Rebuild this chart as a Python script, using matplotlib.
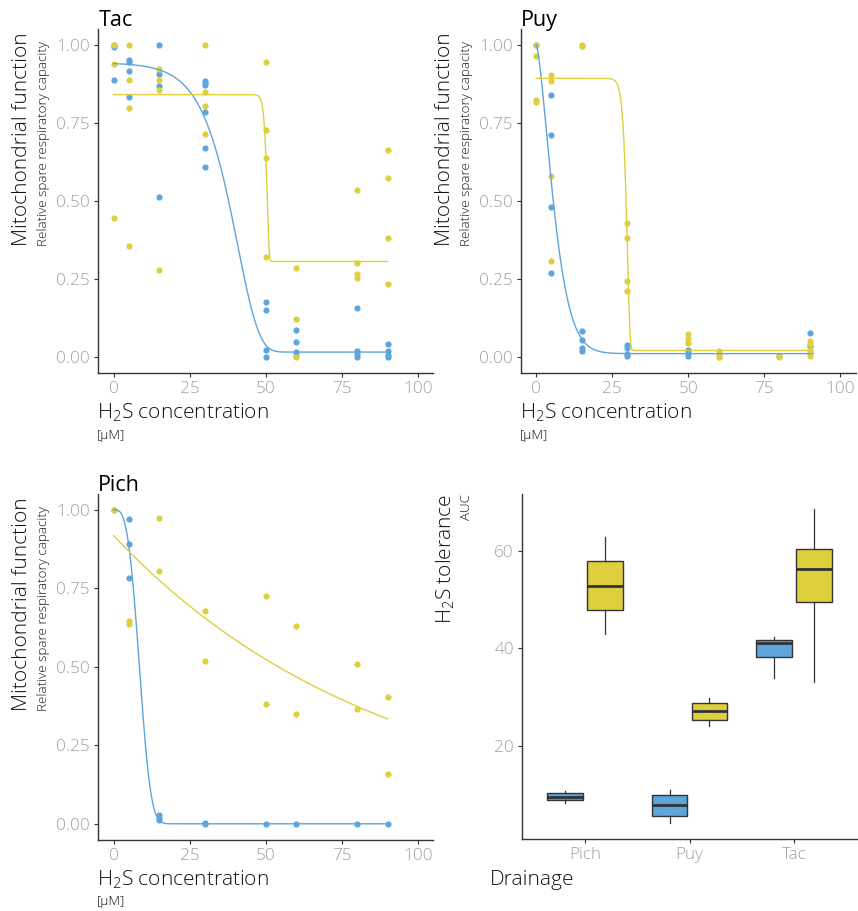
import numpy as np
import matplotlib
matplotlib.use('Agg')
import matplotlib.pyplot as plt

plt.rcParams['font.family'] = ['Open Sans', 'DejaVu Sans']
plt.rcParams['mathtext.default'] = 'regular'

# ---------------- data ----------------
# Tac
tac_blue_x = [0, 0, 0, 5, 5, 5, 5, 15, 15, 15, 15, 30, 30, 30, 30, 30, 30,
              50, 50, 50, 50, 60, 60, 60, 60, 80, 80, 80, 80, 90, 90, 90, 90]
tac_blue_y = [1.0, 0.993, 0.887, 0.952, 0.945, 0.917, 0.832, 1.0, 0.907, 0.870, 0.514,
              0.886, 0.879, 0.873, 0.786, 0.670, 0.610,
              0.177, 0.153, 0.023, 0.0, 0.088, 0.048, 0.016, 0.005,
              0.159, 0.019, 0.011, 0.0, 0.044, 0.021, 0.008, 0.0]
tac_yellow_x = [0, 0, 0, 5, 5, 5, 5, 15, 15, 15, 15, 30, 30, 30, 30,
                50, 50, 50, 50, 60, 60, 60, 80, 80, 80, 80, 90, 90, 90, 90]
tac_yellow_y = [1.0, 0.94, 0.447, 1.0, 0.889, 0.798, 0.358, 0.922, 0.887, 0.855, 0.280,
                0.999, 0.849, 0.804, 0.715, 0.944, 0.728, 0.639, 0.322,
                0.286, 0.124, 0.0, 0.536, 0.303, 0.268, 0.255, 0.665, 0.575, 0.382, 0.236]
# Puy
puy_blue_x = [0, 5, 5, 5, 5, 15, 15, 15, 15, 30, 30, 30, 30, 50, 50, 50, 80, 90, 90, 90]
puy_blue_y = [1.0, 0.839, 0.713, 0.480, 0.270, 0.083, 0.056, 0.030, 0.022,
              0.041, 0.031, 0.010, 0.005, 0.024, 0.014, 0.005, 0.004, 0.077, 0.035, 0.014]
puy_yellow_x = [0, 0, 0, 0, 5, 5, 5, 5, 15, 15, 15, 30, 30, 30, 30, 50, 50, 50,
                60, 60, 60, 60, 80, 80, 90, 90, 90, 90]
puy_yellow_y = [1.0, 0.963, 0.823, 0.818, 0.903, 0.883, 0.580, 0.307, 1.0, 0.996, 0.998,
                0.430, 0.383, 0.244, 0.211, 0.076, 0.059, 0.045,
                0.019, 0.008, 0.002, 0.0, 0.003, 0.0, 0.051, 0.042, 0.024, 0.005]
# Pich
pich_blue_x = [0, 5, 5, 5, 15, 15, 15, 30, 30, 50, 60, 80, 90]
pich_blue_y = [1.0, 0.971, 0.892, 0.783, 0.027, 0.019, 0.013, 0.003, 0.0, 0.0, 0.0, 0.0, 0.0]
pich_yellow_x = [0, 5, 5, 15, 15, 30, 30, 50, 50, 60, 60, 80, 80, 90, 90]
pich_yellow_y = [1.0, 0.645, 0.637, 0.973, 0.804, 0.677, 0.519, 0.725, 0.382,
                 0.631, 0.348, 0.510, 0.366, 0.404, 0.157]

# fitted dose-response model parameters (model, b, c, d, e)
tac_blue_fit = ('G.4', 0.143, 0.017, 0.943, 40.8)
tac_yellow_fit = ('G.4', 1.6, 0.307, 0.841, 50.5)
puy_blue_fit = ('W1.4', 1.49, 0.012, 1.0, 7.1)
puy_yellow_fit = ('G.4', 1.15, 0.022, 0.893, 30.0)
pich_blue_fit = ('W1.4', 3.3, 0.0, 1.0, 9.5)
pich_yellow_fit = ('EXD.3', 0, 0.0, 0.918, 89.0)

# AUC boxplot stats
drainages = ['Pich', 'Puy', 'Tac']
auc_blue = [  # whislo, q1, med, q3, whishi
    (8.3, 8.9, 9.6, 10.3, 10.8),
    (4.2, 5.7, 7.85, 9.9, 11.0),
    (33.9, 38.2, 41.0, 41.8, 42.4),
]
auc_yellow = [
    (42.9, 47.85, 52.8, 57.8, 62.7),
    (24.0, 25.4, 27.2, 28.8, 29.9),
    (33.2, 49.4, 56.2, 60.3, 68.5),
]

BLUE = '#5DA5DA'
YELLOW = '#DECF3F'
TICKC = '#a0a0a0'
AXC = '#333333'
LIGHT = 'light'

W, H = 858, 911
fig = plt.figure(figsize=(W / 100, H / 100), dpi=100)


def rect(l, t, r, b):
    return [l / W, 1 - b / H, (r - l) / W, (b - t) / H]


def fx(x):
    return x / W


def fy(y):
    return 1 - y / H


def model(fit, x):
    kind, b, c, d, e = fit
    x = np.asarray(x, float)
    if kind == 'G.4':
        return c + (d - c) * np.exp(-np.exp(b * (x - e)))
    if kind == 'W1.4':
        return c + (d - c) * np.exp(-(x / e) ** b)
    return c + (d - c) * np.exp(-x / e)


def style(ax):
    for s in ['top', 'right']:
        ax.spines[s].set_visible(False)
    for s in ['left', 'bottom']:
        ax.spines[s].set_color(AXC)
        ax.spines[s].set_linewidth(1.0)
    ax.tick_params(colors=AXC, labelcolor=TICKC, length=3, width=0.8,
                   labelsize=12.3, pad=3)
    for lab in ax.get_xticklabels() + ax.get_yticklabels():
        lab.set_fontweight(LIGHT)


def dose_panel(r, title, bx, by, yx, yy, bfit, yfit):
    l, t, rr, b = r
    ax = fig.add_axes(rect(l, t, rr, b))
    ax.scatter(bx, by, s=20, color=BLUE, lw=0, zorder=2)
    ax.scatter(yx, yy, s=20, color=YELLOW, lw=0, zorder=2)
    xx = np.linspace(0, 90, 600)
    ax.plot(xx, model(bfit, xx), color=BLUE, lw=1.0, zorder=3)
    ax.plot(xx, model(yfit, xx), color=YELLOW, lw=1.0, zorder=3)
    ax.set_xlim(-5, 105)
    ax.set_ylim(-0.05, 1.05)
    ax.set_xticks([0, 25, 50, 75, 100])
    ax.set_yticks([0, 0.25, 0.5, 0.75, 1.0])
    ax.set_yticklabels(['0.00', '0.25', '0.50', '0.75', '1.00'])
    style(ax)
    fig.text(fx(l), fy(t - 3), title, fontsize=15.5, color='black',
             ha='left', va='baseline')
    fig.text(fx(l - 71), fy(t + 217), 'Mitochondrial function', fontsize=15,
             fontweight=LIGHT, color='#111111', rotation=90,
             rotation_mode='anchor', ha='left', va='baseline')
    fig.text(fx(l - 51), fy(t + 217), 'Relative spare respiratory capacity',
             fontsize=9.6, fontweight=LIGHT, color='#111111', rotation=90,
             rotation_mode='anchor', ha='left', va='baseline')
    fig.text(fx(l - 1), fy(b + 46), 'H$_2$S concentration', fontsize=15,
             fontweight=LIGHT, color='#111111', ha='left', va='baseline')
    fig.text(fx(l - 1), fy(b + 66), '[μM]', fontsize=9.6,
             fontweight=LIGHT, color='#111111', ha='left', va='baseline')
    return ax


dose_panel((98.3, 29.3, 433.3, 373), 'Tac', tac_blue_x, tac_blue_y,
           tac_yellow_x, tac_yellow_y, tac_blue_fit, tac_yellow_fit)
dose_panel((521, 29.3, 855.5, 373), 'Puy', puy_blue_x, puy_blue_y,
           puy_yellow_x, puy_yellow_y, puy_blue_fit, puy_yellow_fit)
dose_panel((98.3, 494, 433.3, 839.5), 'Pich', pich_blue_x, pich_blue_y,
           pich_yellow_x, pich_yellow_y, pich_blue_fit, pich_yellow_fit)

# ---------------- boxplot ----------------
l, t, rr, b = 522.3, 494, 856.7, 839
ax = fig.add_axes(rect(l, t, rr, b))
pos = np.arange(1, len(drainages) + 1)
off, wid = 0.19, 0.34
for stats, color, sgn in [(auc_blue, BLUE, -1), (auc_yellow, YELLOW, 1)]:
    bstats = [dict(whislo=s[0], q1=s[1], med=s[2], q3=s[3], whishi=s[4], fliers=[])
              for s in stats]
    ax.bxp(bstats, positions=pos + sgn * off, widths=wid, patch_artist=True,
           showcaps=False, manage_ticks=False,
           boxprops=dict(facecolor=color, edgecolor=AXC, linewidth=1.0),
           medianprops=dict(color=AXC, linewidth=2.0),
           whiskerprops=dict(color=AXC, linewidth=0.9))
ax.set_xlim(0.4, 3.6)
ax.set_ylim(0.95, 71.6)
ax.set_xticks(pos)
ax.set_xticklabels(drainages)
ax.set_yticks([20, 40, 60])
style(ax)
fig.text(fx(452), fy(494), 'H$_2$S tolerance', fontsize=15, fontweight=LIGHT,
         color='#111111', rotation=90, rotation_mode='anchor', ha='right',
         va='baseline')
fig.text(fx(470), fy(494), 'AUC', fontsize=9.6, fontweight=LIGHT,
         color='#111111', rotation=90, rotation_mode='anchor', ha='right',
         va='baseline')
fig.text(fx(490), fy(885), 'Drainage', fontsize=15, fontweight=LIGHT,
         color='#111111', ha='left', va='baseline')

fig.savefig('out.png', dpi=100)
